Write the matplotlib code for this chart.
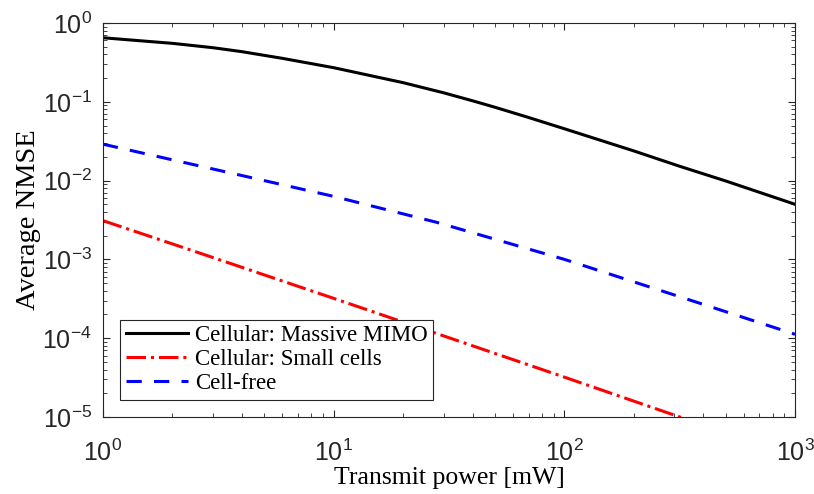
import numpy as np
import matplotlib
matplotlib.use('Agg')
from matplotlib import pyplot as plt

# values (log-log)
power = [1, 2, 3, 4, 6, 10, 20, 30, 40, 50, 70, 100, 200, 316, 500, 1000]
nmse_massive = [0.65, 0.552, 0.486, 0.433, 0.356, 0.271, 0.175, 0.130, 0.103,
                0.0853, 0.0632, 0.0455, 0.0238, 0.0152, 0.0099, 0.0050]

power_cf = [1, 2.71, 5, 10, 28, 100, 316, 1000]
nmse_cellfree = [0.029, 0.0150, 0.0100, 0.0063, 0.00295, 0.0010, 0.000336, 0.000112]

power_sc = [1, 2.63, 10, 100, 316, 1000]
nmse_small = [0.0031, 0.0012, 0.00032, 3.2e-5, 1.0e-5, 3.2e-6]

labels = ['Cellular: Massive MIMO', 'Cellular: Small cells', 'Cell-free']

serif = ['Liberation Serif', 'DejaVu Serif']
sans = ['Liberation Sans', 'DejaVu Sans']
axcol = '#262626'

fig = plt.figure(figsize=(8.14, 4.94), dpi=100)
ax = fig.add_axes([0.1265, 0.156, 0.8502, 0.7974])

ax.plot(power, nmse_massive, 'k-', lw=2.2, label=labels[0])
ax.plot(power_sc, nmse_small, '-.', color='red', lw=2.2, label=labels[1])
ax.plot(power_cf, nmse_cellfree, '--', color='blue', lw=2.2, dashes=(5, 4), label=labels[2])

ax.set_xscale('log')
ax.set_yscale('log')
ax.set_xlim(1, 1000)
ax.set_ylim(1e-5, 1)

ax.tick_params(which='both', direction='in', top=True, right=True, colors=axcol)
ax.tick_params(which='major', length=5, labelsize=18)
ax.tick_params(which='minor', length=3)
for lab in ax.get_xticklabels() + ax.get_yticklabels():
    lab.set_family(sans)
for s in ax.spines.values():
    s.set_color(axcol)
    s.set_linewidth(0.8)
ax.tick_params(axis='x', pad=16)
ax.tick_params(axis='y', pad=8)

ax.set_xlabel('Transmit power [mW]', family=serif, fontsize=18.5, labelpad=1)
ax.set_ylabel('Average NMSE', family=serif, fontsize=20.5, labelpad=1)

leg = ax.legend(loc='lower left', prop={'family': serif, 'size': 16.5}, fancybox=False,
                edgecolor=axcol, framealpha=1, handlelength=2.7, borderaxespad=0.75,
                labelspacing=0.12, handletextpad=0.3, borderpad=0.25)
leg.get_frame().set_linewidth(0.8)

plt.savefig('out.png', dpi=100)
